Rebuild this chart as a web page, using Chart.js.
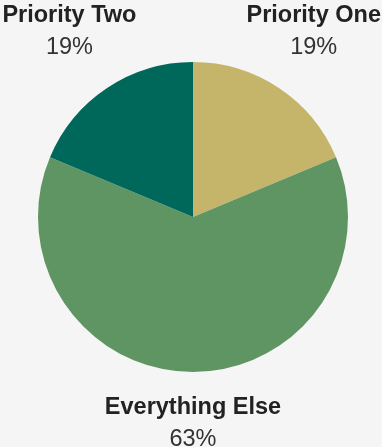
<!DOCTYPE html>
<html>
<head>
<meta charset="utf-8">
<script src="https://cdn.jsdelivr.net/npm/chart.js@4/dist/chart.umd.min.js"></script>
<style>
  html, body { margin: 0; padding: 0; background: #f5f5f5; }
  #wrap { width: 382px; height: 447px; position: relative; }
</style>
</head>
<body>
<div id="wrap"><canvas id="pieChart" width="382" height="447"></canvas></div>
<script>
// Chart data
const categories = ["Priority One", "Everything Else", "Priority Two"];
const shares = [18.7, 62.6, 18.7];
const sliceColors = ["#c4b56b", "#5f9563", "#00685a"];

// Labels outside the pie: bold name + percent underneath
const outsideLabels = {
    id: "outsideLabels",
    afterDraw(chart) {
        const ctx = chart.ctx;
        const W = chart.width, H = chart.height;
        const total = shares.reduce((a, b) => a + b, 0);
        chart.getDatasetMeta(0).data.forEach((arc, i) => {
            const mid = (arc.startAngle + arc.endAngle) / 2;
            const R = arc.outerRadius + 68;
            let x = arc.x + Math.cos(mid) * R;
            let y = arc.y + Math.sin(mid) * R;

            ctx.save();
            ctx.font = "bold 23.5px 'Liberation Sans', Arial, sans-serif";
            const w = ctx.measureText(categories[i]).width;
            x = Math.min(Math.max(x, w / 2 + 1), W - w / 2 - 1);
            y = Math.min(Math.max(y, 32), H - 23);

            ctx.textAlign = "center";
            ctx.textBaseline = "middle";
            ctx.fillStyle = "#222";
            ctx.fillText(categories[i], x, y - 16);
            ctx.font = "23.5px 'Liberation Sans', Arial, sans-serif";
            ctx.fillStyle = "#333";
            ctx.fillText(Math.round(shares[i] / total * 100) + "%", x, y + 16);
            ctx.restore();
        });
    }
};

new Chart(document.getElementById("pieChart").getContext("2d"), {
    type: "pie",
    data: {
        labels: categories,
        datasets: [{
            data: shares,
            backgroundColor: sliceColors,
            borderWidth: 0,
            hoverOffset: 0
        }]
    },
    options: {
        responsive: false,
        animation: false,
        layout: { padding: { top: 62, bottom: 75, left: 38, right: 34 } },
        plugins: {
            legend: { display: false },
            tooltip: { enabled: false }
        }
    },
    plugins: [outsideLabels]
});
</script>
</body>
</html>
